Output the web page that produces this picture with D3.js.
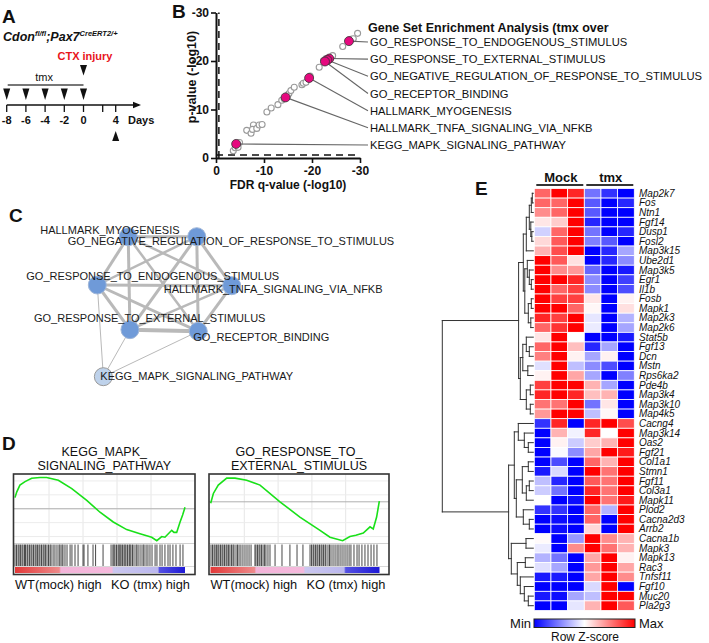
<!DOCTYPE html>
<html><head><meta charset="utf-8">
<script src="https://cdn.jsdelivr.net/npm/d3@7"></script>
<style>
html,body{margin:0;padding:0;background:#fff;}
svg{display:block;font-family:"Liberation Sans",Arial,Helvetica,sans-serif;}
</style></head><body>
<svg id="fig" width="709" height="643"></svg>
<script>
// ================= DATA =================
// Panel A – timeline
const tmxDays = [-8, -6, -4, -2, 0];
const dayTicks = [-8, -6, -4, -2, 0, 2, 4];
const dayTickLabels = ["-8", "-6", "-4", "-2", "0", "", "4"];
const injuryDay = 0;
const harvestDay = 4;

// Panel B – GSEA scatter (FDR q-value vs p-value, -log10, negative)
const fdrAll  = [-3.6,-4.0,-4.6,-4.9,-6.4,-7.3,-7.8,-7.6,-8.5,-9.0,-9.6,-10.6,-11.5,-12.9,-13.7,-14.2,-14.9,-15.2,-15.6,-16.3,-17.9,-18.2,-18.75,-19.6,-21.5,-22.4,-22.9,-23.9,-24.3,-26.4,-28.1,-28.6,-29.5];
const pvalAll = [-1.5,-2.1,-2.2,-3.2,-5.7,-5.1,-6.8,-5.9,-6.1,-6.8,-6.9,-9.5,-10.3,-11.0,-11.9,-12.2,-12.9,-13.3,-13.9,-14.6,-15.1,-15.4,-15.6,-16.9,-18.7,-20.1,-20.5,-20.7,-21.1,-23.0,-24.5,-24.6,-25.7];
const setNames = ["GO_RESPONSE_TO_ENDOGENOUS_STIMULUS","GO_RESPONSE_TO_EXTERNAL_STIMULUS","GO_NEGATIVE_REGULATION_OF_RESPONSE_TO_STIMULUS","GO_RECEPTOR_BINDING","HALLMARK_MYOGENESIS","HALLMARK_TNFA_SIGNALING_VIA_NFKB","KEGG_MAPK_SIGNALING_PATHWAY"];
const setFdr  = [-27.7, -23.6, -23.2, -22.7, -19.4, -14.5, -4.2];
const setPval = [-24.1, -20.5, -20.2, -19.9, -16.5, -12.5, -2.9];
const bTicks = [0, -10, -20, -30];
const sigThreshold = -0.6;
const bTitle = "Gene Set Enrichment Analysis (tmx over";

// Panel C – enrichment map network
const netNames = ["HALLMARK_MYOGENESIS","GO_NEGATIVE_REGULATION_OF_RESPONSE_TO_STIMULUS","GO_RESPONSE_TO_ENDOGENOUS_STIMULUS","HALLMARK_TNFA_SIGNALING_VIA_NFKB","GO_RESPONSE_TO_EXTERNAL_STIMULUS","GO_RECEPTOR_BINDING","KEGG_MAPK_SIGNALING_PATHWAY"];
const netLayoutX = [0.23, 0.74, 0.00, 1.00, 0.243, 0.751, 0.045];
const netLayoutY = [0.00, 0.00, 0.345, 0.35, 0.664, 0.676, 1.00];
const netStrong = [1, 1, 1, 1, 1, 1, 0];
const netEdges = [[0,1,3],[0,2,3],[0,3,2.5],[0,4,3],[0,5,2.5],[1,2,2.5],[1,3,3],[1,4,3],[1,5,3],[2,3,3],[2,4,3],[2,5,3],[3,4,2.5],[3,5,3],[4,5,4],[6,2,1],[6,4,1],[6,5,1]];

// Panel D – GSEA running enrichment plots
const gseaTitles = [["KEGG_MAPK_","SIGNALING_PATHWAY"],["GO_RESPONSE_TO_","EXTERNAL_STIMULUS"]];
const esRankL = [0,1,2.9,5.9,9.8,14.7,18.6,25.5,33.4,42.2,50,57.8,65.7,73.5,80.4,83.4,86.3,88.2,90.2,92.2,93.5,95.1,97.1,98.6,100];
const esValL  = [0.16,0.24,0.34,0.39,0.44,0.45,0.45,0.41,0.29,0.12,-0.05,-0.19,-0.30,-0.36,-0.41,-0.46,-0.40,-0.41,-0.36,-0.31,-0.34,-0.34,-0.19,-0.09,0.02];
const esRankR = [0.1,1.7,4.6,9.6,14.5,21.4,29.3,41.1,52.9,64.8,70.7,78.2,82.5,86,90.4,94.4,96.3,98.3,99.9];
const esValR  = [-0.02,0.12,0.24,0.34,0.34,0.31,0.24,0.0,-0.22,-0.41,-0.51,-0.56,-0.50,-0.48,-0.45,-0.36,-0.39,-0.22,0.01];
const hitsL = [0,0.9,1.8,2.4,3.2,4.1,4.7,5.6,6.2,7.1,7.6,8.5,9.4,10,10.9,11.8,12.4,13.2,14.1,14.7,15.6,16.5,17.1,17.9,18.8,19.7,20.6,21.2,22.4,23.5,24.7,25.9,26.5,27.6,28.2,29.4,30.6,32.4,33.5,35.3,37.1,40,40.6,42.9,45.9,47.4,51.8,56.5,57.6,58.2,58.8,59.7,60.6,61.2,61.8,62.4,63.2,64.1,64.7,65.3,66.2,67.1,67.6,68.2,69.1,70,71.2,71.8,72.9,74.1,75.3,75.9,77.1,78.2,79.4,80.6,82.4,83.5,85.3,86.5,88.2,90,91.2,92.9,94.7,97.1,98.8];
const hitsR = [0.3,1.2,2.1,2.7,3.6,4.4,5,5.9,6.8,7.4,8.3,9.2,9.8,10.7,11.5,12.4,13.3,13.9,15.1,16,16.9,18,19.2,20.4,21.6,22.8,24,26.3,26.9,27.8,28.7,29.3,30.2,31.1,32,32.8,34,35.2,38.2,42.3,47,51.2,54.7,58.9,59.8,60.7,61.2,62.1,63,63.6,64.5,65.4,66,66.9,67.8,68.3,69.5,70.4,71.3,72.5,73.7,74.9,76,77.2,78.4,79.6,80.8,82,83.1,84.9,86.7,87.9,89.6,91.4,93.2,95,96.7,98.5];
const rankBarL = [[0,"#e23838"],[26,"#ee8a8a"],[27,"#f3b4d9"],[57,"#f5b9dc"],[58,"#cac7ef"],[84,"#bbb7ee"],[85,"#5450e2"],[100,"#1d18d6"]];
const rankBarR = [[0,"#e23838"],[26,"#ee8a8a"],[27,"#f3b4d9"],[55,"#f5b9dc"],[56,"#cac7ef"],[79,"#bbb7ee"],[80,"#5450e2"],[100,"#1d18d6"]];

// Panel E – heatmap
const genes = ["Map2k7","Fos","Ntn1","Fgf14","Dusp1","Fosl2","Map3k15","Ube2d1","Map3k5","Egr1","Il1b","Fosb","Mapk1","Map2k3","Map2k6","Stat5b","Fgf13","Dcn","Mstn","Rps6ka2","Pde4b","Map3k4","Map3k10","Map4k5","Cacng4","Map3k14","Oas2","Fgf21","Col1a1","Stmn1","Fgf11","Col3a1","Mapk11","Plod2","Cacna2d3","Arrb2","Cacna1b","Mapk3","Mapk13","Rac3","Tnfsf11","Fgf10","Muc20","Pla2g3"];
const sampleGroups = ["Mock","tmx"];
const zScores = [
 [0.6,1.0,0.85,-0.55,-0.8,-1.0],
 [0.6,0.6,1.0,-0.65,-1.0,-0.85],
 [0.45,0.6,1.0,-0.65,-1.0,-1.0],
 [0.1,0.2,1.0,-0.85,-1.0,-1.0],
 [-0.18,0.6,1.0,-0.55,-1.0,-0.85],
 [0.15,0.65,1.0,-0.5,-0.65,-1.0],
 [0.3,0.7,1.0,-1.0,-0.85,-0.35],
 [1.0,0.65,0.12,-1.0,-0.85,-0.45],
 [1.0,0.45,0.4,-0.6,-1.0,-0.9],
 [1.0,1.0,0.85,-0.45,-1.0,-0.75],
 [1.0,0.6,0.75,-0.45,-1.0,-0.7],
 [1.0,0.75,0.75,0.1,-1.0,0.05],
 [1.0,1.0,0.6,0.03,-1.0,0.12],
 [0.85,0.75,1.0,-0.1,-1.0,-0.3],
 [0.6,0.8,1.0,-0.08,-1.0,-0.35],
 [0.1,1.0,0.0,-1.0,-1.0,-0.9],
 [0.6,1.0,0.25,-0.85,-0.35,-1.0],
 [0.5,1.0,0.05,-0.35,0.05,-1.0],
 [-0.12,1.0,-0.25,-0.45,-0.7,-1.0],
 [0.05,1.0,0.35,-0.35,-1.0,-0.5],
 [0.75,1.0,1.0,0.3,-0.35,-1.0],
 [0.85,1.0,0.85,0.25,0.3,-1.0],
 [0.55,0.55,1.0,-0.55,0.1,-1.0],
 [0.4,1.0,1.0,-0.25,0.03,-1.0],
 [-0.8,0.85,-1.0,0.85,1.0,0.7],
 [-1.0,0.3,-0.05,0.85,0.0,1.0],
 [-1.0,0.05,-0.2,0.2,0.3,1.0],
 [-1.0,-0.02,-0.45,0.35,1.0,0.9],
 [-1.0,-0.7,-1.0,0.6,0.3,1.0],
 [-0.9,-0.15,-1.0,1.0,0.55,1.0],
 [-0.25,-0.85,-1.0,0.65,0.55,1.0],
 [-0.2,-0.55,-1.0,0.85,0.55,1.0],
 [0.0,-1.0,-0.95,1.0,0.55,0.9],
 [-0.8,-0.8,-1.0,0.6,-0.3,1.0],
 [-1.0,-0.95,-1.0,0.6,-1.0,1.0],
 [-1.0,-0.95,-1.0,0.15,-1.0,1.0],
 [0.02,-1.0,-0.4,1.0,0.45,0.3],
 [-0.08,-1.0,0.45,1.0,0.55,0.3],
 [-0.3,-0.55,-1.0,0.35,1.0,0.05],
 [-0.12,-0.35,-1.0,0.4,1.0,0.35],
 [-0.9,-0.9,-1.0,0.35,1.0,0.45],
 [-1.0,-1.0,-1.0,-0.15,1.0,-1.0],
 [-0.9,-0.95,-0.35,-0.25,1.0,1.0],
 [-1.0,-1.0,-0.1,0.3,1.0,0.65]
];
// dendrogram: [height, left, right]
const geneTree =
 [91,
  [14.7,
   [10,
    [7, [4, [2, [1,"Map2k7","Fos"],"Ntn1"], [2.5,"Fgf14",[1.5,"Dusp1","Fosl2"]]], "Map3k15"],
    [8.5, [6,"Ube2d1",[4,"Map3k5",[2,"Egr1","Il1b"]]], [5,[2,"Fosb","Mapk1"],[2.5,"Map2k3","Map2k6"]]]],
   [13,
    [10.5, [7,"Stat5b",[4,"Fgf13","Dcn"]], [5.5,"Mstn","Rps6ka2"]],
    [7, [3,"Pde4b","Map3k4"], [3,"Map3k10","Map4k5"]]]],
  [24.7,
   [19,
    [15,"Cacng4",[9,"Map3k14",[5,"Oas2","Fgf21"]]],
    [17,[11,[5,"Col1a1","Stmn1"],[7,[4,"Fgf11","Col3a1"],"Mapk11"]],[10,"Plod2",[4,"Cacna2d3","Arrb2"]]]],
   [22,
    [7.3,"Cacna1b","Mapk3"],
    [16,[8,"Mapk13","Rac3"],[13,"Tnfsf11",[9,"Fgf10",[5,"Muc20","Pla2g3"]]]]]]];

// ================= DRAWING =================
const svg = d3.select("#fig");
svg.append("rect").attr("width", 709).attr("height", 643).attr("fill", "#fff");
const INK = "#111";

function panelLabel(t, x, y) {
  svg.append("text").attr("x", x).attr("y", y).text(t)
    .attr("font-size", 19).attr("font-weight", "bold").attr("fill", INK);
}

// ---------- Panel A ----------
panelLabel("A", 2, 22.5);
{
  const g = svg.append("g");
  const xA = d3.scaleLinear().domain([-8, 2, 4]).range([6.7, 102.7, 115.7]);
  const gt = g.append("text").attr("x", 3).attr("y", 40.5)
    .attr("font-weight", "bold").attr("font-style", "italic").attr("font-size", 12.5).attr("fill", INK);
  gt.append("tspan").text("Cdon");
  gt.append("tspan").text("fl/fl").attr("font-size", 7.5).attr("dy", -4.5);
  gt.append("tspan").text(";Pax7").attr("dy", 4.5);
  gt.append("tspan").text("CreERT2/+").attr("font-size", 7.5).attr("dy", -4.5);

  g.append("text").attr("x", xA(injuryDay) + 1.5).attr("y", 60).attr("text-anchor", "middle")
    .attr("font-size", 11).attr("font-weight", "bold").attr("fill", "#e8141b").text("CTX injury");
  const down = (x, y0, y1, w) => `M${x - w / 2},${y0}L${x + w / 2},${y0}L${x},${y1}Z`;
  const up = (x, y0, y1, w) => `M${x},${y0}L${x + w / 2},${y1}L${x - w / 2},${y1}Z`;
  g.append("path").attr("d", down(xA(injuryDay), 65, 75.5, 7)).attr("fill", INK);

  g.append("text").attr("x", (xA(tmxDays[0]) + xA(tmxDays[tmxDays.length - 1])) / 2 - 1).attr("y", 80.5)
    .attr("text-anchor", "middle").attr("font-size", 11).attr("fill", INK).text("tmx");
  g.append("line").attr("x1", xA(tmxDays[0]) + 1).attr("x2", xA(tmxDays[tmxDays.length - 1]))
    .attr("y1", 85).attr("y2", 85).attr("stroke", "#777").attr("stroke-width", 2);
  g.selectAll("path.tmx").data(tmxDays).join("path").attr("class", "tmx")
    .attr("d", d => down(xA(d), 88.5, 100, 7)).attr("fill", INK);

  g.append("line").attr("x1", xA(-8)).attr("x2", 139).attr("y1", 105).attr("y2", 105)
    .attr("stroke", INK).attr("stroke-width", 1.3);
  g.append("path").attr("d", "M133,101.8L141,105L133,108.2Z").attr("fill", INK);
  g.selectAll("line.tick").data(dayTicks).join("line").attr("class", "tick")
    .attr("x1", d => xA(d)).attr("x2", d => xA(d)).attr("y1", 105).attr("y2", 112)
    .attr("stroke", INK).attr("stroke-width", 1.3);
  g.selectAll("text.day").data(dayTicks).join("text").attr("class", "day")
    .attr("x", d => xA(d)).attr("y", 123.5).attr("text-anchor", "middle")
    .attr("font-size", 11).attr("font-weight", "bold").attr("fill", INK)
    .text((d, i) => dayTickLabels[i]);
  g.append("text").attr("x", 128).attr("y", 123.5).attr("font-size", 11).attr("font-weight", "bold")
    .attr("fill", INK).text("Days");
  g.append("path").attr("d", up(xA(harvestDay), 131, 141, 7)).attr("fill", INK);
}

// ---------- Panel B ----------
panelLabel("B", 172, 17.5);
{
  const g = svg.append("g");
  const xB = d3.scaleLinear().domain([0, -30]).range([216, 360]);
  const yB = d3.scaleLinear().domain([0, -30]).range([158, 12.5]);

  // threshold dashed lines
  g.append("line").attr("x1", xB(sigThreshold)).attr("x2", xB(sigThreshold))
    .attr("y1", yB(0)).attr("y2", yB(-30)).attr("stroke", INK).attr("stroke-width", 1.5)
    .attr("stroke-dasharray", "7,5");
  g.append("line").attr("x1", xB(0)).attr("x2", xB(-30))
    .attr("y1", yB(sigThreshold)).attr("y2", yB(sigThreshold)).attr("stroke", INK).attr("stroke-width", 1.5)
    .attr("stroke-dasharray", "7,5");

  const ax = g.append("g").attr("transform", `translate(0,${yB(0)})`)
    .call(d3.axisBottom(xB).tickValues(bTicks).tickSize(5).tickSizeOuter(0).tickPadding(3).tickFormat(d => String(d)));
  const ay = g.append("g").attr("transform", `translate(${xB(0)},0)`)
    .call(d3.axisLeft(yB).tickValues(bTicks).tickSize(5).tickSizeOuter(0).tickPadding(2).tickFormat(d => String(d)));
  [ax, ay].forEach(a => {
    a.select(".domain").attr("stroke", INK).attr("stroke-width", 2);
    a.selectAll(".tick line").attr("stroke", INK).attr("stroke-width", 1.6);
    a.selectAll(".tick text").attr("font-size", 12).attr("font-weight", "bold").attr("fill", INK)
      .attr("font-family", '"Liberation Sans", Arial, sans-serif');
  });
  g.append("text").attr("x", 288).attr("y", 188.5).attr("text-anchor", "middle")
    .attr("font-size", 12).attr("font-weight", "bold").attr("fill", INK).text("FDR q-value (-log10)");
  g.append("text").attr("transform", "translate(191.5,77) rotate(-90)").attr("text-anchor", "middle")
    .attr("dominant-baseline", "central")
    .attr("font-size", 12.5).attr("font-weight", "bold").attr("fill", INK).text("p-value (-log10)");

  // gray background points
  g.selectAll("circle.bg").data(fdrAll).join("circle").attr("class", "bg")
    .attr("cx", d => xB(d)).attr("cy", (d, i) => yB(pvalAll[i])).attr("r", 3)
    .attr("fill", "#fff").attr("stroke", "#9a9a9a").attr("stroke-width", 1.1);

  const labY = d3.scalePoint().domain(d3.range(setNames.length)).range([42, 145]);
  g.selectAll("line.lead").data(setNames).join("line").attr("class", "lead")
    .attr("x1", (d, i) => xB(setFdr[i])).attr("y1", (d, i) => yB(setPval[i]))
    .attr("x2", 368).attr("y2", (d, i) => labY(i))
    .attr("stroke", "#666").attr("stroke-width", 1.1);
  g.selectAll("circle.hi").data(setNames).join("circle").attr("class", "hi")
    .attr("cx", (d, i) => xB(setFdr[i])).attr("cy", (d, i) => yB(setPval[i])).attr("r", 4.5)
    .attr("fill", "#e6097f").attr("stroke", "#333").attr("stroke-width", 0.8);
  g.selectAll("text.lab").data(setNames).join("text").attr("class", "lab")
    .attr("x", 370).attr("y", (d, i) => labY(i)).attr("dominant-baseline", "central")
    .attr("font-size", 11.2).attr("fill", INK).text(d => d);
  g.append("text").attr("x", 368).attr("y", 32).attr("font-size", 12.5).attr("font-weight", "bold")
    .attr("fill", INK).text(bTitle);
}

// ---------- Panel C ----------
panelLabel("C", 9, 222);
{
  const g = svg.append("g");
  const xC = d3.scaleLinear().domain([0, 1]).range([97.3, 231.7]);
  const yC = d3.scaleLinear().domain([0, 1]).range([236.7, 376.7]);
  const labelDx = [-88, -129, -71, -68, -96, -5, -3];
  const labelDy = [-3, 8.5, -5, 7, -8, 9.5, 3.5];
  g.selectAll("line.edge").data(netEdges).join("line").attr("class", "edge")
    .attr("x1", d => xC(netLayoutX[d[0]])).attr("y1", d => yC(netLayoutY[d[0]]))
    .attr("x2", d => xC(netLayoutX[d[1]])).attr("y2", d => yC(netLayoutY[d[1]]))
    .attr("stroke", "#b9b9b9").attr("stroke-width", d => d[2]);
  g.selectAll("circle.node").data(netNames).join("circle").attr("class", "node")
    .attr("cx", (d, i) => xC(netLayoutX[i])).attr("cy", (d, i) => yC(netLayoutY[i])).attr("r", 9)
    .attr("fill", (d, i) => netStrong[i] ? "#6f9ad8" : "#bed2eb")
    .attr("stroke", (d, i) => netStrong[i] ? "#9fb6d8" : "#999").attr("stroke-width", 1);
  g.selectAll("text.nl").data(netNames).join("text").attr("class", "nl")
    .attr("x", (d, i) => xC(netLayoutX[i]) + labelDx[i]).attr("y", (d, i) => yC(netLayoutY[i]) + labelDy[i])
    .attr("font-size", 11).attr("fill", "#1a1a1a").text(d => d);
}

// ---------- Panel D ----------
panelLabel("D", 2, 450);
{
  const plots = [
    { x0: 13.5, x1: 195, r0: 15, r1: 185, rank: esRankL, es: esValL, hits: hitsL, bar: rankBarL, dom: [-0.5, 0.5] },
    { x0: 209, x1: 389, r0: 210.5, r1: 379.5, rank: esRankR, es: esValR, hits: hitsR, bar: rankBarR, dom: [-0.6, 0.4] }
  ];
  const top = 474, esBot = 543.5, hitBot = 566.5, barBot = 573, bot = 574.5;
  plots.forEach((p, k) => {
    const g = svg.append("g");
    const xr = d3.scaleLinear().domain([0, 100]).range([p.r0, p.r1]);
    const ye = d3.scaleLinear().domain(p.dom).range([esBot, top]);
    const cx = (p.x0 + p.x1) / 2;
    g.append("text").attr("x", cx).attr("y", 456).attr("text-anchor", "middle").attr("font-size", 12.5)
      .attr("fill", INK).text(gseaTitles[k][0]);
    g.append("text").attr("x", cx).attr("y", 470).attr("text-anchor", "middle").attr("font-size", 12.5)
      .attr("fill", INK).text(gseaTitles[k][1]);
    // grid
    g.selectAll("line.vg").data([20, 40, 60, 80]).join("line").attr("class", "vg")
      .attr("x1", d => xr(d)).attr("x2", d => xr(d)).attr("y1", top).attr("y2", esBot)
      .attr("stroke", "#e6e6e6").attr("stroke-width", 1);
    g.selectAll("line.hg").data(d3.range(p.dom[0] + 0.1, p.dom[1], 0.2)).join("line").attr("class", "hg")
      .attr("x1", p.x0).attr("x2", p.x1).attr("y1", d => ye(d)).attr("y2", d => ye(d))
      .attr("stroke", "#ececec").attr("stroke-width", 1);
    g.append("line").attr("x1", p.x0).attr("x2", p.x1).attr("y1", ye(0)).attr("y2", ye(0))
      .attr("stroke", "#b0b0b0").attr("stroke-width", 1);
    g.append("line").attr("x1", p.x0).attr("x2", p.x1).attr("y1", esBot).attr("y2", esBot)
      .attr("stroke", "#d0d0d0").attr("stroke-width", 1);
    g.append("line").attr("x1", p.x0).attr("x2", p.x1).attr("y1", hitBot).attr("y2", hitBot)
      .attr("stroke", "#d8d8d8").attr("stroke-width", 1);
    // hits
    g.selectAll("line.hit").data(p.hits).join("line").attr("class", "hit")
      .attr("x1", d => xr(d)).attr("x2", d => xr(d)).attr("y1", esBot + 1).attr("y2", hitBot - 0.5)
      .attr("stroke", "#1a1a1a").attr("stroke-opacity", 0.8).attr("stroke-width", 1);
    // ranked list colour bar
    const gid = "rb" + k;
    const grad = svg.append("defs").append("linearGradient").attr("id", gid)
      .attr("x1", "0%").attr("x2", "100%").attr("y1", "0%").attr("y2", "0%");
    p.bar.forEach(s => grad.append("stop").attr("offset", s[0] + "%").attr("stop-color", s[1]));
    g.append("rect").attr("x", xr(0)).attr("width", xr(100) - xr(0)).attr("y", hitBot + 0.5)
      .attr("height", barBot - hitBot - 0.5).attr("fill", `url(#${gid})`);
    // running ES curve
    const line = d3.line().x(d => xr(d[0])).y(d => ye(d[1]));
    g.append("path").datum(p.rank.map((r, i) => [r, p.es[i]])).attr("d", line)
      .attr("fill", "none").attr("stroke", "#19e019").attr("stroke-width", 1.6);
    // frame
    g.append("rect").attr("x", p.x0).attr("y", top).attr("width", p.x1 - p.x0).attr("height", bot - top)
      .attr("fill", "none").attr("stroke", "#333").attr("stroke-width", 1.6);
    g.append("text").attr("x", p.x0 + 1.5).attr("y", 588.5).attr("font-size", 12.8).attr("fill", INK)
      .text("WT(mock) high");
    g.append("text").attr("x", p.x0 + 97.5).attr("y", 588.5).attr("font-size", 12.8).attr("fill", INK)
      .text("KO (tmx) high");
  });
}

// ---------- Panel E ----------
panelLabel("E", 475, 194.5);
{
  const g = svg.append("g");
  const xE = d3.scaleBand().domain(d3.range(6)).range([534.3, 634.3]);
  const yE = d3.scaleBand().domain(genes).range([188.5, 610.5]);
  const col = d3.scaleLinear().domain([-1, 0, 1]).range(["#0000ff", "#ffffff", "#ff0000"]);
  const bw = xE.bandwidth(), bh = yE.bandwidth();

  genes.forEach((gname, r) => {
    g.selectAll(null).data(zScores[r]).join("rect")
      .attr("x", (d, c) => xE(c)).attr("y", yE(gname)).attr("width", bw).attr("height", bh)
      .attr("fill", d => col(d)).attr("stroke", "#fff").attr("stroke-width", 0.8);
  });
  g.selectAll("text.gene").data(genes).join("text").attr("class", "gene")
    .attr("x", 639).attr("y", d => yE(d) + bh / 2).attr("dominant-baseline", "central")
    .attr("font-size", 10).attr("font-style", "italic").attr("fill", INK).text(d => d);

  // group headers
  sampleGroups.forEach((grp, k) => {
    const a = xE(k * 3), b = xE(k * 3 + 2) + bw;
    g.append("text").attr("x", (a + b) / 2 + 1.5).attr("y", 181.5).attr("text-anchor", "middle")
      .attr("font-size", 13).attr("font-weight", "bold").attr("fill", INK).text(grp);
    g.append("line").attr("x1", a + 2).attr("x2", b - 1).attr("y1", 185).attr("y2", 185)
      .attr("stroke", "#333").attr("stroke-width", 2);
  });

  // dendrogram
  const root = d3.hierarchy(geneTree, d => Array.isArray(d) ? d.slice(1) : null);
  const xD = d3.scaleLinear().domain([0, geneTree[0]]).range([533.3, 442.3]);
  root.eachAfter(n => {
    if (n.children) {
      n.px = xD(n.data[0]);
      n.py = (n.children[0].py + n.children[1].py) / 2;
    } else {
      n.px = xD(0);
      n.py = yE(n.data) + bh / 2;
    }
  });
  const segs = [];
  root.each(n => {
    if (n.children) {
      segs.push([n.px, n.children[0].py, n.px, n.children[1].py]);
      n.children.forEach(c => segs.push([n.px, c.py, c.px, c.py]));
    }
  });
  g.selectAll("line.den").data(segs).join("line").attr("class", "den")
    .attr("x1", d => d[0]).attr("y1", d => d[1]).attr("x2", d => d[2]).attr("y2", d => d[3])
    .attr("stroke", "#333").attr("stroke-width", 1).attr("stroke-linecap", "square");

  // colour key
  const lg = svg.append("defs").append("linearGradient").attr("id", "zkey")
    .attr("x1", "0%").attr("x2", "100%");
  col.domain().forEach((d, i) => lg.append("stop").attr("offset", (i * 50) + "%").attr("stop-color", col.range()[i]));
  g.append("rect").attr("x", 534).attr("y", 619).attr("width", 101).attr("height", 8.5)
    .attr("fill", "url(#zkey)").attr("stroke", "#222").attr("stroke-width", 1);
  g.append("text").attr("x", 531).attr("y", 627.5).attr("text-anchor", "end").attr("font-size", 13)
    .attr("fill", INK).text("Min");
  g.append("text").attr("x", 639).attr("y", 627.5).attr("font-size", 13).attr("fill", INK).text("Max");
  g.append("text").attr("x", 585).attr("y", 641).attr("text-anchor", "middle").attr("font-size", 12)
    .attr("fill", INK).text("Row Z-score");
}
</script>
</body></html>
